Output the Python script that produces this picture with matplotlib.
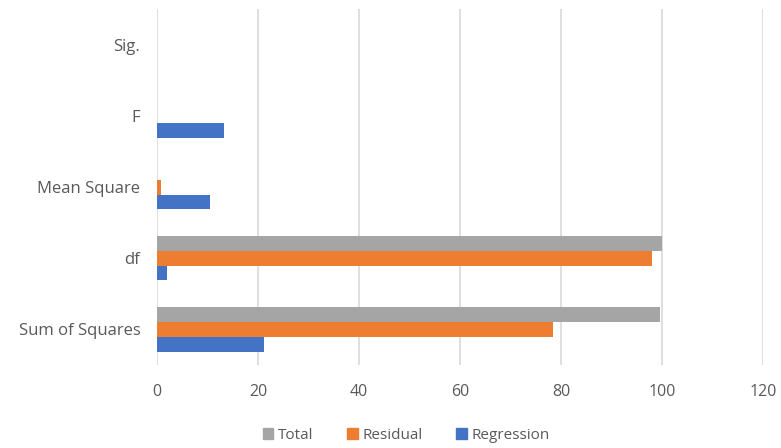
import numpy as np
import matplotlib
matplotlib.use("Agg")
import matplotlib.pyplot as plt
from matplotlib.patches import Patch

categories = ["Sum of Squares", "df", "Mean Square", "F", "Sig."]
regression = [21.1, 2, 10.55, 13.2, 0.0]
residual = [78.4, 98, 0.8, 0, 0]
total = [99.5, 100, 0, 0, 0]
x_ticks = [0, 20, 40, 60, 80, 100, 120]

plt.rcParams["font.family"] = ["Open Sans", "DejaVu Sans"]
text_color = "#595959"

fig = plt.figure(figsize=(7.81, 4.48), dpi=100)
ax = fig.add_axes([0.201, 0.186, 0.776, 0.793])

y = np.arange(len(categories))
h = 0.21
ax.barh(y - h, regression, height=h, color="#4472C4", zorder=3)
ax.barh(y, residual, height=h, color="#ED7D31", zorder=3)
ax.barh(y + h, total, height=h, color="#A5A5A5", zorder=3)

ax.set_xlim(0, 120)
ax.set_ylim(-0.5, len(categories) - 0.5)
ax.set_xticks(x_ticks)
ax.set_yticks(y)
ax.set_yticklabels(categories)
ax.tick_params(axis="x", length=0, labelsize=11.5, colors=text_color, pad=14)
ax.tick_params(axis="y", length=0, labelsize=12, colors=text_color, pad=12)
ax.grid(axis="x", color="#D9D9D9", linewidth=1.2, zorder=0)
for s in ax.spines.values():
    s.set_visible(False)

handles = [Patch(color="#A5A5A5", label="Total"),
           Patch(color="#ED7D31", label="Residual"),
           Patch(color="#4472C4", label="Regression")]
fig.legend(handles=handles, loc="center", bbox_to_anchor=(0.52, 0.028), ncol=3,
           frameon=False, fontsize=11, handlelength=0.7, handleheight=0.7,
           handletextpad=0.3, columnspacing=2.2, labelcolor=text_color)

fig.savefig("out.png", dpi=100)
